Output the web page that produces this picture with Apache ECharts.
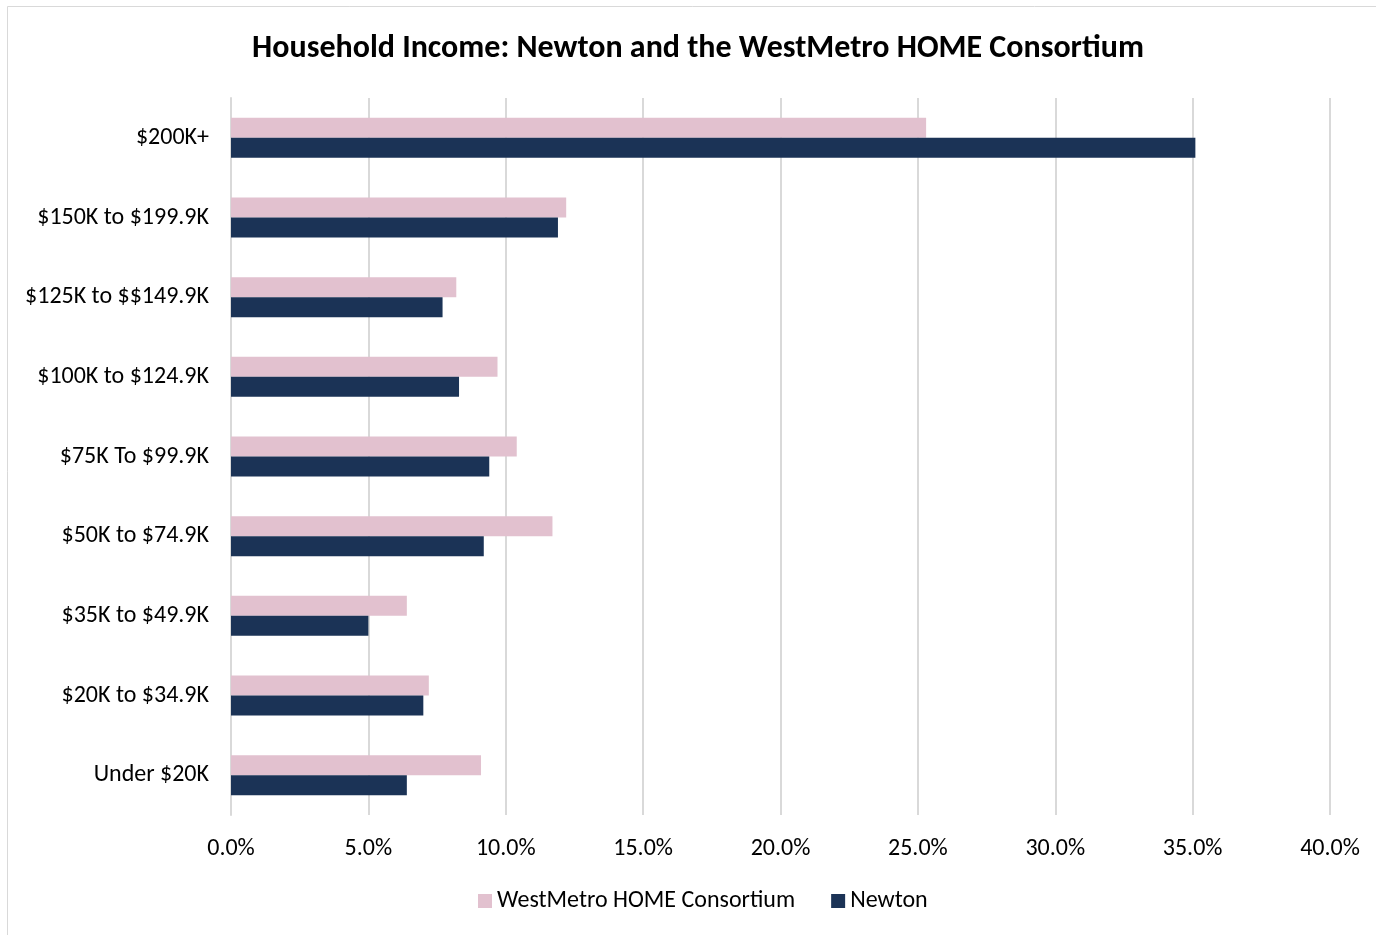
<!DOCTYPE html>
<html><head><meta charset="utf-8">
<script src="https://cdn.jsdelivr.net/npm/echarts@6/dist/echarts.min.js"></script>
<style>html,body{margin:0;padding:0;background:#fff}#c{width:1376px;height:935px}</style>
</head><body><div id="c"></div>
<script>
const categories = ["$200K+","$150K to $199.9K","$125K to $$149.9K","$100K to $124.9K","$75K To $99.9K","$50K to $74.9K","$35K to $49.9K","$20K to $34.9K","Under $20K"];
const westMetro = [25.3,12.2,8.2,9.7,10.4,11.7,6.4,7.2,9.1];
const newton = [35.1,11.9,7.7,8.3,9.4,9.2,5.0,7.0,6.4];
const xTicks = {min:0,max:40,interval:5};
const FONT = "Carlito, Lato, 'Liberation Sans', sans-serif";
const chart = echarts.init(document.getElementById('c'));
chart.setOption({
  animation:false,
  backgroundColor:'#fff',
  graphic:[{type:'rect',shape:{x:7.5,y:6.5,width:1380,height:940},style:{fill:'none',stroke:'#d9d9d9',lineWidth:1}}],
  title:{text:'Household Income: Newton and the WestMetro HOME Consortium',left:693,textAlign:'center',top:28,
    textStyle:{fontFamily:FONT,fontSize:32,fontWeight:'bold',color:'#000'}},
  legend:{bottom:17,left:473,itemWidth:14,itemHeight:14,itemGap:36,icon:'rect',
    textStyle:{fontFamily:FONT,fontSize:24,color:'#000'},data:['WestMetro HOME Consortium','Newton']},
  grid:{left:231,right:46,top:98,bottom:120},
  xAxis:{type:'value',min:xTicks.min,max:xTicks.max,interval:xTicks.interval,
    axisLabel:{formatter:v=>v.toFixed(1)+'%',fontFamily:FONT,fontSize:24,color:'#000',margin:22},
    splitLine:{lineStyle:{color:'#d9d9d9',width:2}},axisLine:{show:false},axisTick:{show:false}},
  yAxis:{type:'category',data:categories,inverse:true,
    axisLabel:{fontFamily:FONT,fontSize:24,color:'#000',margin:22},
    axisLine:{lineStyle:{color:'#d9d9d9',width:2}},axisTick:{show:false}},
  series:[
    {name:'WestMetro HOME Consortium',type:'bar',data:westMetro,barWidth:20,barGap:'0%',itemStyle:{color:'#E2C1CF'}},
    {name:'Newton',type:'bar',data:newton,barWidth:20,barGap:'0%',itemStyle:{color:'#1B3356'}}
  ]
});
</script></body></html>
